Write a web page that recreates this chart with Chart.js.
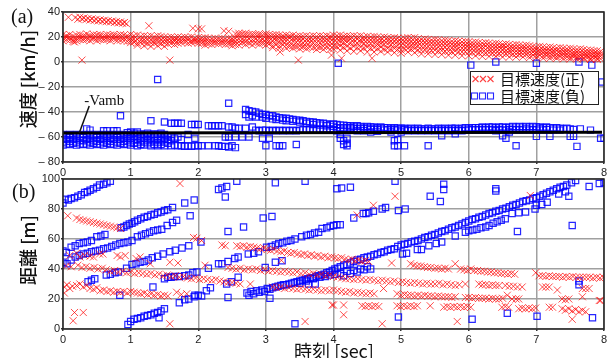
<!DOCTYPE html>
<html lang="ja">
<head>
<meta charset="utf-8">
<title>目標速度と距離</title>
<script src="https://cdn.jsdelivr.net/npm/chart.js@4.4.1/dist/chart.umd.min.js"></script>
<style>
  html, body { margin: 0; padding: 0; background: #fff; }
  #wrap { position: relative; width: 614px; height: 358px; overflow: hidden; }
  #wrap canvas { position: absolute; left: 0; }
  #speedChart { top: 0; }
  #distChart { top: 168px; }
</style>
</head>
<body>
<div id="wrap">
  <canvas id="speedChart" width="614" height="178"></canvas>
  <canvas id="distChart" width="614" height="190"></canvas>
</div>
<script>
// ---------------------------------------------------------------
// Data: each row is [time(sec), value, value, ...] (one radar frame)
// ---------------------------------------------------------------

// (a) speed [km/h], positive targets (red x)
const speedPosUpper = [
  [0.08, 35.8], [0.18, 35.5], [0.22, 34.2], [0.25, 35.8], [0.28, 34.6], [0.31, 35.2],
  [0.34, 33.9], [0.37, 34.8], [0.40, 33.6], [0.43, 34.5], [0.46, 33.2], [0.49, 34.1],
  [0.52, 32.9], [0.55, 33.8], [0.58, 32.6], [0.61, 33.4], [0.64, 32.3], [0.67, 33.1],
  [0.70, 32.0], [0.73, 32.8], [0.76, 31.6], [0.79, 32.4], [0.82, 31.3], [0.85, 32.0],
  [0.88, 31.0], [0.91, 31.6], [0.94, 30.6],
];
const speedPosBand = [
  [0.00, 22, 19, 17], [0.05, 21, 20, 18], [0.10, 22, 19.5, 17.5], [0.15, 20.5, 18, 16.5], [0.20, 21.5, 19, 17],
  [0.25, 22, 20, 18], [0.30, 21, 19, 17.5], [0.35, 22.5, 20, 18], [0.40, 21, 19.5, 17], [0.45, 22, 20, 18.5],
  [0.50, 21.5, 19, 17], [0.55, 22, 20.5, 18], [0.60, 21, 19, 17.5], [0.65, 22, 20, 18], [0.70, 21.5, 19, 17],
  [0.75, 22, 20.5, 18.5], [0.80, 21, 19, 17], [0.85, 22, 20, 17.5], [0.90, 21.5, 19, 17], [0.95, 21, 19.5, 16.5],
  [1.00, 22, 19, 17, 15.5], [1.05, 21, 18.5, 16], [1.10, 21.5, 18, 15, 13.5], [1.15, 20.5, 17.5, 15.5], [1.20, 21, 18, 16, 13],
  [1.25, 20.5, 17.5, 14.5], [1.30, 21, 18, 15.5, 12.5], [1.35, 20, 17, 15], [1.40, 21, 18.5, 16, 13], [1.45, 20.5, 17.5, 14.5],
  [1.50, 20, 18, 15.5, 12.5], [1.55, 19.5, 17, 14.5], [1.60, 20, 17.5, 15], [1.65, 19.5, 18, 16.5, 14], [1.70, 20, 17.5, 15],
  [1.75, 19.5, 17, 15.5], [1.80, 20, 18, 16], [1.85, 19.5, 17.5, 15], [1.90, 20, 17, 15.5], [1.95, 19, 17.5, 16],
  [2.00, 19.5, 17, 15], [2.05, 19, 17, 15], [2.10, 19.5, 17.5, 15.5, 13.5], [2.15, 19, 16.5, 14.5], [2.20, 18.5, 16, 14],
  [2.25, 19, 17, 15], [2.30, 18.5, 16.5, 14.5], [2.35, 19, 17, 15], [2.40, 18.5, 16, 14], [2.45, 19, 16.5, 14.5],
  [2.50, 18.5, 17, 15, 13], [2.55, 22.5, 19, 16.5, 14], [2.60, 23, 21.5, 18.5, 16, 13.5], [2.65, 22.5, 18, 15.5], [2.70, 23, 21.5, 19, 16.5, 14],
  [2.75, 22, 18.5, 15], [2.80, 22.5, 21, 18, 16, 13.5], [2.85, 22, 18.5, 15.5], [2.90, 22.5, 21, 19, 16, 14], [2.95, 21.5, 18, 15],
  [3.00, 22.5, 21, 18.5, 16, 13.5], [3.05, 22, 20, 17, 14.5], [3.10, 21.5, 19.5, 16.5, 13, 11.5], [3.15, 22, 20, 17.5, 14], [3.20, 21.5, 19, 16, 13, 11],
  [3.25, 21, 19.5, 17, 14], [3.30, 21.5, 19, 16.5, 13.5, 11], [3.35, 21, 19.5, 16, 12.5], [3.40, 21.5, 19, 16.5, 13, 11], [3.45, 20.5, 18.5, 15.5, 12],
  [3.50, 21, 19, 16, 13, 10.5], [3.55, 20.5, 18.5, 15, 12], [3.60, 21, 18, 15.5, 12.5, 10.5], [3.65, 20.5, 18.5, 16, 12], [3.70, 21, 18, 15, 11.5],
  [3.75, 20.5, 18.5, 15.5, 12.5, 10], [3.80, 21, 18, 15, 11.5], [3.85, 20.5, 18.5, 16, 12.5, 10], [3.90, 21, 18, 15.5, 12], [3.95, 20.5, 19, 16, 13, 10],
  [4.00, 21.5, 19, 16, 13, 10.5], [4.05, 21, 18.5, 15.5, 12], [4.10, 21.5, 19, 16.5, 13, 9.5], [4.15, 20.5, 18, 15, 11.5], [4.20, 21, 19, 16, 12.5, 9],
  [4.25, 20.5, 18.5, 15, 11], [4.30, 21, 18, 15.5, 12.5, 8.5], [4.35, 20.5, 18.5, 15, 11.5], [4.40, 21, 18, 16, 12, 9], [4.45, 20, 17.5, 14.5, 11],
  [4.50, 20.5, 18, 15, 12, 8], [4.55, 20, 17.5, 14.5, 11], [4.60, 20.5, 18, 15, 11.5, 8], [4.65, 20, 17, 14, 10.5], [4.70, 19.5, 17.5, 15, 12, 8.5],
  [4.75, 20, 17, 14, 10], [4.80, 19.5, 17.5, 14.5, 11, 8], [4.85, 19, 16.5, 13.5, 10], [4.90, 19.5, 17, 14, 11, 7.5], [4.95, 19, 16.5, 13.5, 10],
  [5.00, 18.5, 16, 13, 9.5, 7], [5.05, 19, 16.5, 13.5, 10.5], [5.10, 19.5, 17, 14, 11, 8], [5.15, 19, 16, 13, 10], [5.20, 19.5, 16.5, 14, 11, 7.5],
  [5.25, 18.5, 16, 13, 9.5], [5.30, 18, 15.5, 12.5, 9.5, 6.5], [5.35, 18.5, 16, 13, 10], [5.40, 18, 15.5, 12.5, 9, 6.5], [5.45, 17.5, 15, 12, 9],
  [5.50, 18, 15.5, 12.5, 9.5, 6], [5.55, 17.5, 15, 12, 8.5], [5.60, 17, 14.5, 11.5, 9, 6], [5.65, 17.5, 15, 12, 8.5], [5.70, 17, 14.5, 11.5, 8.5, 5.5],
  [5.75, 16.5, 14, 11, 8], [5.80, 17, 14.5, 12, 9, 5.5], [5.85, 16.5, 14, 11, 8], [5.90, 16, 13.5, 11, 8, 5], [5.95, 16.5, 14, 11.5, 8.5],
  [6.00, 16, 13.5, 11, 8, 5], [6.05, 15.5, 13, 10.5, 7.5], [6.10, 16, 13.5, 11, 8, 5], [6.15, 15.5, 13, 10, 7], [6.20, 15, 12.5, 10.5, 7.5, 4.5],
  [6.25, 15.5, 13, 10, 7], [6.30, 15, 12.5, 10, 7.5, 4.5], [6.35, 14.5, 12, 9.5, 7], [6.40, 15, 12.5, 10, 7, 4.5], [6.45, 14.5, 12, 9.5, 6.5],
  [6.50, 14, 12.5, 10, 7, 4], [6.55, 14.5, 12, 9, 6.5], [6.60, 14, 11.5, 9.5, 7, 4], [6.65, 13.5, 11, 9, 6], [6.70, 14, 11.5, 9, 6.5, 4],
  [6.75, 13.5, 11, 8.5, 6], [6.80, 13, 11, 9, 6.5, 4], [6.85, 13.5, 11, 8.5, 6], [6.90, 13, 10.5, 8, 5.5, 3.5], [6.95, 12.5, 10, 8, 5.5],
  [7.00, 12, 10, 7.5, 5.5, 3.5], [7.05, 12.5, 10, 8, 5.5], [7.10, 12, 9.5, 7.5, 5, 3], [7.15, 11.5, 9, 7, 5], [7.20, 12, 9.5, 7.5, 5, 3],
  [7.25, 11.5, 9, 7, 4.5], [7.30, 11, 9, 6.5, 4.5, 3], [7.35, 11.5, 9, 7, 4.5], [7.40, 11, 8.5, 6.5, 4.5, 2.5], [7.45, 10.5, 8.5, 6.5, 4],
  [7.50, 11, 8.5, 6, 4, 2.5], [7.55, 10.5, 8, 6, 4], [7.60, 10, 8, 6, 4, 2.5], [7.65, 10.5, 8, 5.5, 3.5], [7.70, 10, 7.5, 5.5, 3.5, 2.5],
  [7.75, 9.5, 7.5, 5.5, 3.5], [7.80, 9.5, 7.5, 5, 3, 2], [7.85, 9, 7, 5, 3], [7.90, 9, 7, 5, 3, 2], [7.95, 8.5, 6.5, 4.5, 2.5],
];
const speedPosStray = [
  [0.17, 16], [0.28, 1.5], [1.27, 29], [1.58, 1.5], [1.92, 27], [2.00, 26.5], [2.05, 26.5],
  [2.38, 25], [2.45, 24.5], [3.21, 8], [3.48, 1.5], [3.97, 5.5], [4.12, 3], [4.57, 3],
];

// (a) speed [km/h], negative targets (blue squares)
const speedNegFrames = [
  [0.00, -58, -61, -64, -66.5], [0.05, -59, -62, -65.5], [0.10, -58, -60.5, -63.5, -66], [0.15, -59, -62, -65],
  [0.20, -58, -61, -64, -66.5], [0.25, -59.5, -62.5, -65.5], [0.30, -58, -60.5, -63, -66], [0.35, -53.5, -59, -62, -65.5],
  [0.40, -54.5, -58, -61, -64, -66.5], [0.45, -59, -62.5, -65], [0.50, -58, -60.5, -63.5, -66], [0.55, -59, -62, -65.5],
  [0.60, -55, -58, -61, -64, -66.5], [0.65, -55, -59.5, -62.5, -65], [0.70, -58, -61, -63.5, -66], [0.75, -55, -59, -62, -65.5],
  [0.80, -55, -58, -60.5, -64, -66.5], [0.85, -43, -59, -62, -65], [0.90, -58, -61, -63.5, -66], [0.95, -56.5, -59.5, -62.5, -65.5],
  [1.00, -56, -58, -61, -64, -66.5], [1.05, -57, -59.5, -62.5, -65], [1.10, -56, -58.5, -61.5, -64.5, -67], [1.15, -57.5, -60, -63, -66],
  [1.20, -58, -61, -64, -66.5], [1.25, -57, -59.5, -62.5, -65.5], [1.30, -47, -58, -61, -64, -67], [1.35, -57.5, -60, -63, -66],
  [1.40, -14, -58, -61.5, -64.5, -67], [1.45, -57, -60, -63, -66], [1.50, -48, -58, -61, -64, -67], [1.55, -59, -62, -65],
  [1.60, -49, -60, -63, -67], [1.65, -49, -61, -66.5], [1.70, -49, -60, -67], [1.75, -49, -62, -67],
  [1.80, -67.5], [1.85, -58, -67], [1.90, -50, -67.5], [1.95, -50, -61, -67], [2.00, -50, -67], [2.05, -67],
  [2.15, -51, -67], [2.20, -51], [2.25, -51, -67], [2.30, -51, -67], [2.35, -51, -67.5], [2.40, -60, -67.5],
  [2.45, -33, -52, -60, -68], [2.50, -52, -67], [2.55, -53, -60, -68.5], [2.60, -53], [2.65, -60],
  [2.70, -38, -42, -53], [2.75, -39, -44, -60], [2.80, -39.5, -43, -52], [2.85, -40, -44, -54.5], [2.90, -41, -55],
  [2.95, -42, -44, -54.5, -61], [3.00, -42, -45, -54.5, -67], [3.05, -43, -55, -61], [3.10, -43, -45.5, -54.5],
  [3.15, -44, -46, -55, -67], [3.20, -44.5, -54.5, -67], [3.25, -45, -46.5, -55, -67], [3.30, -45, -47, -54.5],
  [3.35, -45.5, -55], [3.40, -46, -47.5, -54.5], [3.45, -46.5, -55, -66], [3.50, -46.5, -48, -54.5],
  [3.55, -47, -54], [3.60, -47.5, -49, -54.5], [3.65, -48, -54], [3.70, -48, -50, -54.5], [3.75, -48.5, -54],
  [3.80, -49, -50.5, -54.5], [3.85, -49, -53.5], [3.90, -49.5, -51, -54.5], [3.95, -50, -53.5], [4.00, -49.5, -51.5, -54],
  [4.05, -50, -52.5, -55], [4.10, -50.5, -53, -58, -61], [4.15, -50.5, -52.5, -54.5, -63, -66], [4.20, -51, -53, -61, -65, -67],
  [4.25, -51, -52.5, -54.5], [4.30, -51.5, -53], [4.35, -51, -53.5, -55], [4.40, -51.5, -53], [4.45, -52, -53.5, -55],
  [4.50, -51.5, -53], [4.55, -52, -54, -56], [4.60, -52, -53.5], [4.65, -52.5, -54, -55.5], [4.70, -52, -53.5],
  [4.75, -52.5, -54.5], [4.80, -52.5, -54], [4.85, -53, -54.5, -56], [4.90, -52.5, -54, -63, -67], [4.95, -53, -54.5, -62, -67],
  [5.00, -53, -54.5, -56], [5.05, -53, -54, -67], [5.10, -53.5, -55], [5.15, -53, -54.5], [5.20, -53.5, -55],
  [5.25, -53, -54.5], [5.30, -53.5, -55], [5.35, -53.5, -54.5], [5.40, -53, -55, -67], [5.45, -53.5, -54.5],
  [5.50, -53.5, -55], [5.55, -53, -54.5], [5.60, -53.5, -55, -59], [5.65, -53, -54.5], [5.70, -53.5, -55],
  [5.75, -53, -54.5], [5.80, -53, -55, -57.5], [5.85, -53.5, -54.5], [5.90, -53, -55], [5.95, -52.5, -54.5],
  [6.00, -53, -54.5], [6.05, -52.5, -54], [6.10, -52.5, -54.5], [6.15, -52.5, -54], [6.20, -52, -54.5],
  [6.25, -52.5, -54], [6.30, -52, -54.5], [6.35, -52, -54], [6.40, -52.5, -55], [6.45, -52, -54],
  [6.50, -52, -54.5, -59], [6.55, -52.5, -54.5, -61], [6.60, -52, -54, -56], [6.65, -51.5, -54], [6.70, -52, -54.5, -67],
  [6.75, -51.5, -54], [6.80, -52, -54.5], [6.85, -51.5, -53.5], [6.90, -52, -54.5], [6.95, -51.5, -54],
  [7.00, -52, -54.5, -59.5], [7.05, -52, -53.5], [7.10, -52.5, -54.5], [7.15, -52, -54], [7.20, -52.5, -59.5],
  [7.25, -53, -54.5], [7.30, -52.5], [7.35, -53, -54.5], [7.40, -53.5], [7.45, -53], [7.50, -53.5, -59.5],
  [7.55, -54, -59.5], [7.60, -67.5], [7.65, -53.5], [7.80, -54.5], [7.95, -61], [8.00, -61],
];
const speedNegStray = [
  [4.07, -1], [6.03, -2.5], [6.40, 0], [7.00, -1], [7.63, 0], [7.82, -2.5], [7.97, -16],
];

// (a) ambient speed line (-Vamb)
const vambTime = [0, 7.97];
const vambSpeed = [-56.8, -56.1];

// (b) distance [m], positive targets (red x)
const distPosEarly = [
  [0.07, 75.5], [0.20, 74], [0.25, 73], [0.30, 72.5], [0.35, 72], [0.40, 71.5], [0.45, 71], [0.50, 70.5],
  [0.55, 70], [0.60, 69.5], [0.65, 69], [0.70, 68.5], [0.75, 68], [0.80, 67.5], [0.85, 67],
  [0.10, 49], [0.20, 50.5], [0.25, 48], [0.32, 49], [0.40, 48.5], [0.45, 48], [0.54, 50], [0.59, 50],
  [0.80, 49], [0.85, 48], [0.92, 49], [1.08, 47], [1.14, 48], [1.29, 43.5], [1.58, 44.5], [1.70, 44],
  [0.02, 28], [0.06, 29.5], [0.10, 27], [0.14, 28.5], [0.20, 29], [0.25, 30], [0.30, 28], [0.35, 29],
  [0.40, 27], [0.45, 26.5], [0.50, 27.5], [0.02, 24],
  [0.55, 25.5], [0.60, 26], [0.65, 25], [0.70, 25.5], [0.75, 24.5], [0.80, 25], [0.85, 24.5], [0.90, 25],
  [0.95, 24], [1.00, 25], [1.05, 24.5], [1.10, 24], [1.15, 23.5], [1.20, 24], [1.25, 23], [1.30, 23.5],
  [1.35, 22.5], [1.40, 23], [1.45, 22], [1.50, 22.5], [1.55, 22], [1.68, 24.5], [1.75, 23],
];
const distPosMid = [
  [0.05, 42], [0.12, 41.5], [0.22, 42.5], [0.28, 41], [0.34, 41.5], [0.40, 40.5], [0.46, 41], [0.52, 40],
  [0.58, 40.5], [0.64, 39.5], [0.70, 38.5], [0.76, 39], [0.82, 38], [0.88, 38.5], [0.94, 37.5], [1.00, 38],
  [1.06, 37], [1.12, 37.5], [1.18, 37], [1.24, 36.5], [1.30, 37], [1.36, 36], [1.42, 36.5], [1.48, 35.5],
  [1.54, 36], [1.60, 35], [1.66, 35.5], [1.72, 34.5], [1.78, 35], [1.84, 34], [1.90, 33.5], [1.96, 34],
  [2.02, 33], [2.08, 33.5], [2.14, 33], [2.20, 32.5], [2.26, 33], [2.32, 32], [2.38, 31.5], [2.44, 31],
  [2.50, 31], [2.56, 30.5], [2.62, 30], [2.77, 30],
  [2.44, 41], [2.50, 40.5], [2.56, 40], [2.62, 40.5], [2.68, 39.5], [2.74, 40], [2.80, 39.5], [2.86, 40],
  [2.92, 39], [2.98, 39.5], [3.04, 38.5], [3.10, 39], [3.16, 38.5], [3.22, 38], [3.28, 38.5], [3.34, 38],
  [3.40, 37.5], [3.46, 38], [3.52, 37], [3.58, 37.5], [3.64, 36.5], [3.70, 37], [3.76, 36], [3.82, 36.5],
  [3.88, 35.5], [3.94, 36], [4.00, 35], [4.06, 34.5], [4.12, 34], [4.18, 33.5], [4.24, 33.5], [4.30, 33],
  [4.36, 33.5], [4.42, 33], [4.48, 32.5], [4.54, 33], [4.60, 32.5], [4.66, 32], [4.72, 32.5], [4.78, 32],
  [4.84, 31.5], [4.90, 32], [4.96, 31], [5.02, 31.5], [5.08, 31], [5.14, 30.5], [5.20, 31], [5.26, 30.5],
  [5.32, 30], [5.38, 30.5], [5.44, 30], [5.50, 30], [5.56, 30.5], [5.62, 29.5], [5.68, 30], [5.74, 29.5],
  [5.80, 29], [5.86, 29.5], [5.95, 30], [6.15, 30], [6.20, 29.5], [6.25, 29.5], [6.30, 29], [6.35, 29.5],
  [6.40, 29], [6.45, 29], [6.54, 29], [6.60, 28.5], [6.66, 28.5], [6.72, 28], [6.79, 28], [7.09, 28],
  [7.14, 28], [7.19, 28], [7.31, 26], [7.68, 27], [7.73, 27], [7.78, 27],
];
const distPosFar = [
  [2.57, 55.5], [2.62, 55], [2.67, 55.5], [2.72, 54.5], [2.77, 55], [2.82, 54.5], [2.87, 54], [2.92, 53.5],
  [2.97, 54], [3.02, 53], [3.07, 52.5], [3.12, 53], [3.17, 52], [3.22, 51.5], [3.27, 52], [3.32, 51],
  [3.37, 50.5], [3.42, 51], [3.47, 50], [3.52, 49.5], [3.57, 50], [3.62, 49], [3.67, 49.5], [3.72, 48.5],
  [3.77, 49], [3.82, 48], [3.87, 48.5], [3.92, 47.5], [3.97, 48], [4.02, 47.5], [4.07, 47], [4.12, 47.5],
  [4.17, 46.5], [4.22, 46], [4.27, 46.5], [4.32, 45.5], [4.37, 46], [4.42, 45], [4.47, 45.5], [4.52, 45],
  [4.86, 44], [5.14, 43.5], [5.19, 42.5], [5.24, 42], [5.29, 42], [5.34, 41.5], [5.39, 41], [5.44, 41],
  [5.50, 40.5], [5.55, 40.5], [5.60, 40], [5.65, 40.5], [5.70, 40], [5.80, 43.5], [5.88, 40], [5.93, 39.5],
  [5.98, 39], [6.03, 40], [6.08, 39], [6.13, 39], [6.18, 38.5], [6.23, 38.5], [6.28, 38], [6.33, 38],
  [6.38, 37.5], [6.43, 37.5], [6.48, 37], [6.53, 37], [6.58, 36.5], [6.63, 37], [6.68, 36.5], [6.99, 37.5],
  [7.04, 35.5], [7.09, 35.5], [7.14, 35], [7.19, 35.5], [7.24, 35], [7.29, 35], [7.34, 35], [7.39, 34.5],
  [7.44, 35], [7.49, 34.5], [7.54, 35], [7.59, 34.5], [7.64, 34.5], [7.69, 34.5], [7.74, 34.5], [7.79, 34.5],
  [7.84, 34], [7.89, 34.5], [7.94, 34], [7.99, 34.5],
];
const distPosLow = [
  [3.10, 28], [3.16, 27.5], [3.22, 28], [3.28, 27], [3.34, 27.5], [3.40, 27], [3.46, 26.5], [3.52, 27],
  [3.58, 26.5], [3.64, 26], [3.70, 26.5], [3.76, 26], [3.82, 25.5], [3.88, 26], [3.94, 25.5], [4.00, 26],
  [4.06, 25.5], [4.12, 25], [4.18, 24.5], [4.24, 25], [4.30, 24], [4.36, 24.5], [4.42, 24], [4.48, 23.5],
  [4.54, 24], [4.60, 23.5], [4.74, 27], [4.94, 23.5], [5.00, 22.5], [5.05, 23], [5.10, 22.5], [5.15, 22.5],
  [5.20, 22], [5.25, 22.5], [5.30, 22], [5.35, 22.5], [5.40, 22], [5.45, 22], [5.50, 21.5], [5.55, 22],
  [5.60, 21.5], [5.65, 21.5], [5.70, 21.5], [5.75, 21], [5.80, 21.5], [5.95, 21], [6.00, 21], [6.05, 20.5],
  [6.10, 21], [6.15, 20.5], [6.20, 20.5], [6.25, 20.5], [6.30, 20], [6.35, 20.5], [6.40, 20], [6.45, 20],
  [6.50, 20.5], [6.57, 22.5], [6.64, 20], [6.70, 20], [6.74, 20], [7.38, 20], [7.43, 19.5], [7.48, 20],
  [7.68, 21.5], [7.93, 19],
  [4.42, 15.5], [4.47, 15], [4.52, 15.5], [4.57, 15], [4.62, 15.5], [4.67, 15], [4.94, 15.5], [4.99, 15],
  [5.04, 15.5], [5.09, 15], [5.14, 15.5], [5.19, 15], [5.24, 15.5], [5.43, 15.5], [5.63, 14.5], [5.68, 15],
  [5.73, 14.5], [5.78, 15], [5.83, 14.5], [5.88, 15], [5.93, 14.5], [5.98, 15], [6.03, 14.5], [6.49, 14.5],
  [6.54, 15], [6.59, 14.5], [6.74, 13.5], [6.79, 14], [6.84, 13.5], [6.89, 14], [6.94, 13.5], [6.99, 14],
  [7.19, 14.5], [7.24, 14.5], [7.38, 13.5], [7.43, 12.5], [7.48, 13.5], [7.53, 12], [7.58, 13], [7.63, 11.5],
  [7.68, 12.5], [7.73, 11.5],
];
const distPosStray = [
  [0.17, 11], [0.30, 11], [0.15, 5.5], [1.58, 3.5], [1.73, 97], [1.93, 61], [1.98, 60.5], [2.05, 59],
  [2.10, 42.5], [2.35, 56], [2.40, 55.5], [3.23, 45.8], [3.58, 5], [3.98, 16], [1.83, 23.5],
  [4.00, 16], [4.15, 16], [4.15, 9.5], [4.72, 3.5], [4.91, 88.5], [4.59, 82.5], [4.35, 76], [5.83, 5],
  [6.91, 89], [7.53, 6.5], [7.95, 19],
];

// (b) distance [m], negative targets (blue squares)
const distNegEarly = [
  [0.00, 84], [0.03, 86.5], [0.08, 86], [0.12, 87], [0.17, 87.5], [0.22, 88.5], [0.27, 89.5], [0.32, 91],
  [0.36, 91.5], [0.40, 92.5], [0.45, 93.5], [0.50, 94.5], [0.54, 96], [0.60, 96.5], [0.65, 97.5], [0.70, 98.5],
  [0.86, 67.5], [0.90, 68], [0.94, 69], [0.98, 70], [1.02, 70.5], [1.06, 71.5], [1.10, 72.5], [1.15, 73.5],
  [1.20, 74.5], [1.25, 75], [1.30, 76], [1.35, 76.5], [1.40, 77.5], [1.45, 78], [1.50, 79], [1.55, 79.5],
  [1.62, 81], [1.80, 84], [1.94, 86],
  [0.00, 52], [0.05, 51], [0.12, 54.5], [0.18, 55.5], [0.24, 57], [0.30, 57.5], [0.36, 58], [0.42, 59],
  [0.50, 61.5], [0.56, 62], [0.62, 63],
  [0.00, 44.5], [0.06, 43.5], [0.12, 46], [0.18, 48], [0.24, 49], [0.30, 50], [0.36, 50.5], [0.42, 51.5],
  [0.48, 52], [0.54, 52.5], [0.60, 53.5], [0.66, 54], [0.72, 55], [0.78, 56], [0.84, 57], [0.90, 57.5],
  [0.96, 58], [1.02, 59], [1.10, 61.5], [1.16, 62.5], [1.22, 63.5], [1.28, 64.5], [1.34, 65.5], [1.40, 66],
  [1.46, 66.5], [1.54, 69], [1.62, 71], [1.68, 72.5], [1.88, 75.5],
  [0.94, 40.5], [1.02, 43], [1.08, 43.5], [1.14, 44.5], [1.20, 45], [1.26, 46], [1.32, 47.5], [1.40, 48.5],
  [1.48, 50], [1.58, 51.5], [1.66, 52.5], [1.76, 54], [1.86, 55.5], [2.04, 58],
  [0.37, 31.5], [0.42, 32.5], [0.47, 33.5], [0.64, 36], [0.70, 36.5], [0.77, 37.5], [0.82, 38],
  [1.50, 33.5], [1.55, 34.5], [1.60, 34.5], [1.65, 35], [1.72, 35], [1.80, 35.5], [1.86, 36], [1.92, 37.5], [1.98, 38],
  [0.96, 3], [1.00, 5], [1.05, 6.5], [1.10, 7], [1.15, 7.5], [1.20, 8.5], [1.25, 9], [1.30, 9.5],
  [1.35, 10.5], [1.40, 11], [1.42, 7.5], [1.45, 12], [1.50, 13.5],
  [1.72, 17.5], [1.80, 19.5], [1.86, 20], [1.94, 21.5], [2.00, 22.5], [2.12, 25.5], [2.18, 27.5],
  [2.42, 30], [2.49, 31.5], [2.59, 34.5],
];
const distNegMid = [
  [2.15, 40.5], [2.30, 43.5], [2.35, 43.5], [2.44, 45], [2.54, 47], [2.59, 48], [2.74, 50], [2.82, 50.5],
  [2.89, 51.5], [3.01, 54.5], [3.08, 55], [3.14, 56], [3.19, 57], [3.25, 57.5], [3.31, 58.5], [3.37, 59],
  [3.43, 60], [3.53, 61.5], [3.60, 62.5], [3.66, 63], [3.72, 64], [3.78, 64.5], [3.83, 67], [3.90, 67.5],
  [3.95, 68.5], [4.00, 69], [4.05, 69.5], [4.10, 69.5], [4.30, 74], [4.44, 77], [4.48, 77], [4.52, 77.5],
  [4.59, 78.5], [4.72, 80], [4.77, 81], [4.96, 79], [5.06, 80],
  [3.50, 30.5], [3.60, 32], [3.70, 33.5], [3.80, 34.5], [3.88, 35], [3.95, 36], [4.02, 36.5], [4.10, 37],
  [4.15, 35.5], [4.20, 38.5], [4.25, 37], [4.30, 39], [4.35, 38], [4.40, 40], [4.45, 39.5], [4.50, 41.5], [4.55, 40],
];
const distNegLong = [
  [2.72, 24], [2.75, 22.5], [2.78, 25], [2.82, 23.5], [2.86, 25.5], [2.90, 24.5], [2.94, 26], [2.98, 25],
  [3.02, 27], [3.06, 26.5], [3.10, 27.5], [3.14, 28], [3.18, 28.5], [3.22, 29], [3.26, 29.5], [3.30, 29.5],
  [3.34, 30], [3.38, 30.5], [3.42, 31], [3.46, 31.5], [3.50, 32], [3.54, 32.5], [3.58, 33], [3.62, 33.5],
  [3.66, 34], [3.70, 34], [3.74, 35], [3.78, 35.5], [3.82, 36], [3.86, 36.5], [3.90, 37.5], [3.94, 38],
  [3.98, 39], [4.02, 40], [4.06, 40.5], [4.10, 41.5], [4.15, 42.5], [4.20, 43], [4.25, 44], [4.30, 45],
  [4.35, 46], [4.40, 46.5], [4.45, 47.5], [4.50, 48], [4.55, 48.5], [4.60, 49.5], [4.65, 50], [4.70, 51],
  [4.75, 51.5], [4.80, 52.5], [4.85, 53], [4.90, 53.5], [4.95, 55], [5.00, 56], [5.05, 56.5], [5.10, 57],
  [5.15, 58], [5.20, 58.5], [5.25, 59], [5.30, 60], [5.35, 61], [5.40, 61.5], [5.45, 62.5], [5.50, 63],
  [5.55, 64], [5.60, 65], [5.65, 65.5], [5.70, 66.5], [5.75, 67.5], [5.80, 68], [5.85, 69], [5.90, 70],
  [5.95, 71], [6.00, 72], [6.05, 73], [6.10, 73.5], [6.15, 74.5], [6.20, 75], [6.25, 76], [6.30, 77],
  [6.35, 77.5], [6.40, 78.5], [6.45, 79], [6.50, 80], [6.55, 80.5], [6.60, 81.5], [6.65, 82.5], [6.70, 83],
  [6.75, 84], [6.80, 85], [6.85, 85.5], [6.90, 86], [6.95, 87], [7.00, 87.5], [7.05, 88.5], [7.10, 89.5],
  [7.15, 90.5], [7.20, 91.5], [7.25, 92.5], [7.30, 93.5], [7.35, 94.5], [7.40, 95], [7.45, 96], [7.52, 97.5],
  [7.58, 99], [7.78, 95], [7.93, 97], [8.00, 97.5],
];
const distNegParallel = [
  [5.02, 50], [5.08, 50.5], [5.24, 53], [5.30, 53], [5.41, 55.5], [5.52, 57], [5.60, 58], [5.80, 62],
  [5.95, 64.5], [6.00, 65.5], [6.06, 66], [6.12, 66.5], [6.18, 67.5], [6.25, 68], [6.30, 69], [6.36, 70.5],
  [6.42, 71.5], [6.48, 72.5], [6.54, 73.5], [6.64, 77], [6.74, 77.5], [6.84, 78], [6.98, 80], [7.00, 82.5],
  [7.08, 83], [7.16, 84.5], [7.33, 90], [7.43, 91.5], [7.48, 88.5],
];
const distNegStray = [
  [1.33, 28], [0.84, 22.5], [2.30, 93], [2.35, 94], [2.42, 95], [2.40, 88], [2.57, 98.5], [3.14, 97.5],
  [3.58, 98.5], [2.44, 65], [2.67, 68], [2.96, 74], [3.09, 75], [2.44, 21], [2.05, 22], [1.95, 22.5],
  [3.06, 20.5], [3.43, 3.5], [3.14, 44.5], [3.24, 45.5], [2.99, 41], [4.05, 93.5], [4.12, 94], [4.25, 94.5],
  [4.91, 98.5], [5.43, 88.5], [5.58, 85], [5.63, 96.5], [5.63, 93], [4.96, 8], [6.40, 93.5], [6.40, 92],
  [6.05, 6.5], [6.57, 10.5], [7.01, 8.5], [7.83, 7.5], [6.72, 65], [7.53, 69], [7.63, 32], [7.63, 29.5],
  [3.63, 30], [3.73, 30],
];

// ---------------------------------------------------------------
// helpers
// ---------------------------------------------------------------
function framesToPoints(...groups) {
  const pts = [];
  for (const frames of groups) {
    for (const [t, ...vals] of frames) {
      for (const v of vals) pts.push({ x: t, y: v });
    }
  }
  return pts;
}

const RED = 'rgba(255, 0, 0, 0.7)';
const BLUE = 'rgba(0, 0, 255, 0.85)';
const tickFont = { family: '"Liberation Sans", Arial, sans-serif', size: 11 };
const jpFont = '"Noto Sans CJK JP", "Noto Sans", sans-serif';

function posSet(data) {
  return {
    type: 'scatter', data, order: 2,
    pointStyle: 'crossRot', pointRadius: 5,
    pointBorderColor: RED, pointBorderWidth: 1, pointBackgroundColor: RED,
  };
}
function negSet(data) {
  return {
    type: 'scatter', data, order: 3,
    pointStyle: 'rect', pointRadius: 4.4,
    pointBorderColor: BLUE, pointBorderWidth: 1.2, pointBackgroundColor: 'rgba(0,0,0,0)',
  };
}

function xAxis(height) {
  return {
    type: 'linear', min: 0, max: 8,
    ticks: { stepSize: 1, color: '#222', font: tickFont, padding: 2, maxRotation: 0 },
    grid: { color: '#a0a0a0', lineWidth: 1.5, tickLength: 2, tickColor: '#333' },
    border: { display: false },
    afterFit(scale) { scale.height = height; },
  };
}
function yAxis(min, max) {
  return {
    type: 'linear', min, max,
    ticks: {
      stepSize: 20, color: '#222', font: tickFont, padding: 1,
      callback: (v) => (v < 0 ? '– ' + Math.abs(v) : String(v)),
    },
    grid: { color: '#a0a0a0', lineWidth: 1.5, tickLength: 2, tickColor: '#333' },
    border: { display: false },
    afterFit(scale) { scale.width = 63; },
  };
}

// frame round the plot area
const framePlugin = {
  id: 'frame',
  afterDatasetsDraw(chart) {
    const { ctx, chartArea: a } = chart;
    ctx.save();
    ctx.strokeStyle = '#222';
    ctx.lineWidth = 1.5;
    ctx.strokeRect(a.left, a.top, a.right - a.left, a.bottom - a.top);
    ctx.restore();
  },
};

function drawRotated(ctx, text, x, y, font) {
  ctx.save();
  ctx.translate(x, y);
  ctx.rotate(-Math.PI / 2);
  ctx.font = font;
  ctx.textAlign = 'center';
  ctx.textBaseline = 'middle';
  ctx.fillText(text, 0, 0);
  ctx.restore();
}

const speedDecor = {
  id: 'speedDecor',
  afterDraw(chart) {
    const { ctx, scales: { x, y } } = chart;
    ctx.save();
    ctx.fillStyle = '#111';
    ctx.font = '20px "Liberation Serif", serif';
    ctx.textAlign = 'left';
    ctx.textBaseline = 'middle';
    ctx.fillText('(a)', 11, 18);
    drawRotated(ctx, '速度 [km/h]', 28, 79, '500 18px ' + jpFont);

    // -Vamb leader
    const ax = x.getPixelForValue(0.24);
    const ay = y.getPixelForValue(vambSpeed[0]);
    ctx.strokeStyle = '#111';
    ctx.lineWidth = 1.5;
    ctx.beginPath();
    ctx.moveTo(ax, ay);
    ctx.lineTo(ax + 10, ay - 27);
    ctx.stroke();
    ctx.font = '15px "Liberation Serif", serif';
    ctx.textBaseline = 'alphabetic';
    ctx.fillText('-Vamb', ax + 5, ay - 28);

    // legend box
    ctx.fillStyle = '#fff';
    ctx.fillRect(470.5, 71.5, 128, 33);
    ctx.strokeStyle = '#222';
    ctx.lineWidth = 1;
    ctx.strokeRect(470.5, 71.5, 128, 33);
    ctx.strokeStyle = 'rgba(255,0,0,0.75)';
    ctx.lineWidth = 1.1;
    for (const cx of [475.5, 483, 490.5]) {
      ctx.beginPath();
      ctx.moveTo(cx - 3, 76); ctx.lineTo(cx + 3, 82);
      ctx.moveTo(cx + 3, 76); ctx.lineTo(cx - 3, 82);
      ctx.stroke();
    }
    ctx.strokeStyle = BLUE;
    for (const cx of [474.5, 482.5, 490.5]) ctx.strokeRect(cx - 3, 93, 6, 6);
    ctx.fillStyle = '#111';
    ctx.font = '15px ' + jpFont;
    ctx.textBaseline = 'middle';
    ctx.fillText('目標速度(正)', 500, 79);
    ctx.fillText('目標速度(負)', 500, 96);
    ctx.restore();
  },
};

const distDecor = {
  id: 'distDecor',
  afterDraw(chart) {
    const { ctx } = chart;
    ctx.save();
    ctx.fillStyle = '#111';
    ctx.font = '20px "Liberation Serif", serif';
    ctx.textAlign = 'left';
    ctx.textBaseline = 'middle';
    ctx.fillText('(b)', 12, 25);
    drawRotated(ctx, '距離 [m]', 28, 82, '500 18px ' + jpFont);
    ctx.font = '18px ' + jpFont;
    ctx.textAlign = 'center';
    ctx.fillText('時刻 [sec]', 334, 183);
    ctx.restore();
  },
};

const baseOptions = (top, xHeight, yMin, yMax) => ({
  responsive: false,
  animation: false,
  devicePixelRatio: 1,
  events: [],
  layout: { padding: { top, right: 10, left: 0, bottom: 0 } },
  scales: { x: xAxis(xHeight), y: yAxis(yMin, yMax) },
  plugins: { legend: { display: false }, tooltip: { enabled: false } },
});

// (a) speed chart
new Chart(document.getElementById('speedChart'), {
  type: 'scatter',
  data: {
    datasets: [
      {
        type: 'scatter', order: 1, showLine: true,
        data: vambTime.map((t, i) => ({ x: t, y: vambSpeed[i] })),
        borderColor: '#000', borderWidth: 3, pointRadius: 0,
      },
      posSet(framesToPoints(speedPosBand, speedPosUpper, speedPosStray)),
      negSet(framesToPoints(speedNegFrames, speedNegStray)),
    ],
  },
  options: baseOptions(12, 16, -80, 40),
  plugins: [framePlugin, speedDecor],
});

// (b) distance chart
new Chart(document.getElementById('distChart'), {
  type: 'scatter',
  data: {
    datasets: [
      posSet(framesToPoints(distPosEarly, distPosMid, distPosFar, distPosLow, distPosStray)),
      negSet(framesToPoints(distNegEarly, distNegMid, distNegLong, distNegParallel, distNegStray)),
    ],
  },
  options: baseOptions(11, 29, 0, 100),
  plugins: [framePlugin, distDecor],
});
</script>
</body>
</html>
